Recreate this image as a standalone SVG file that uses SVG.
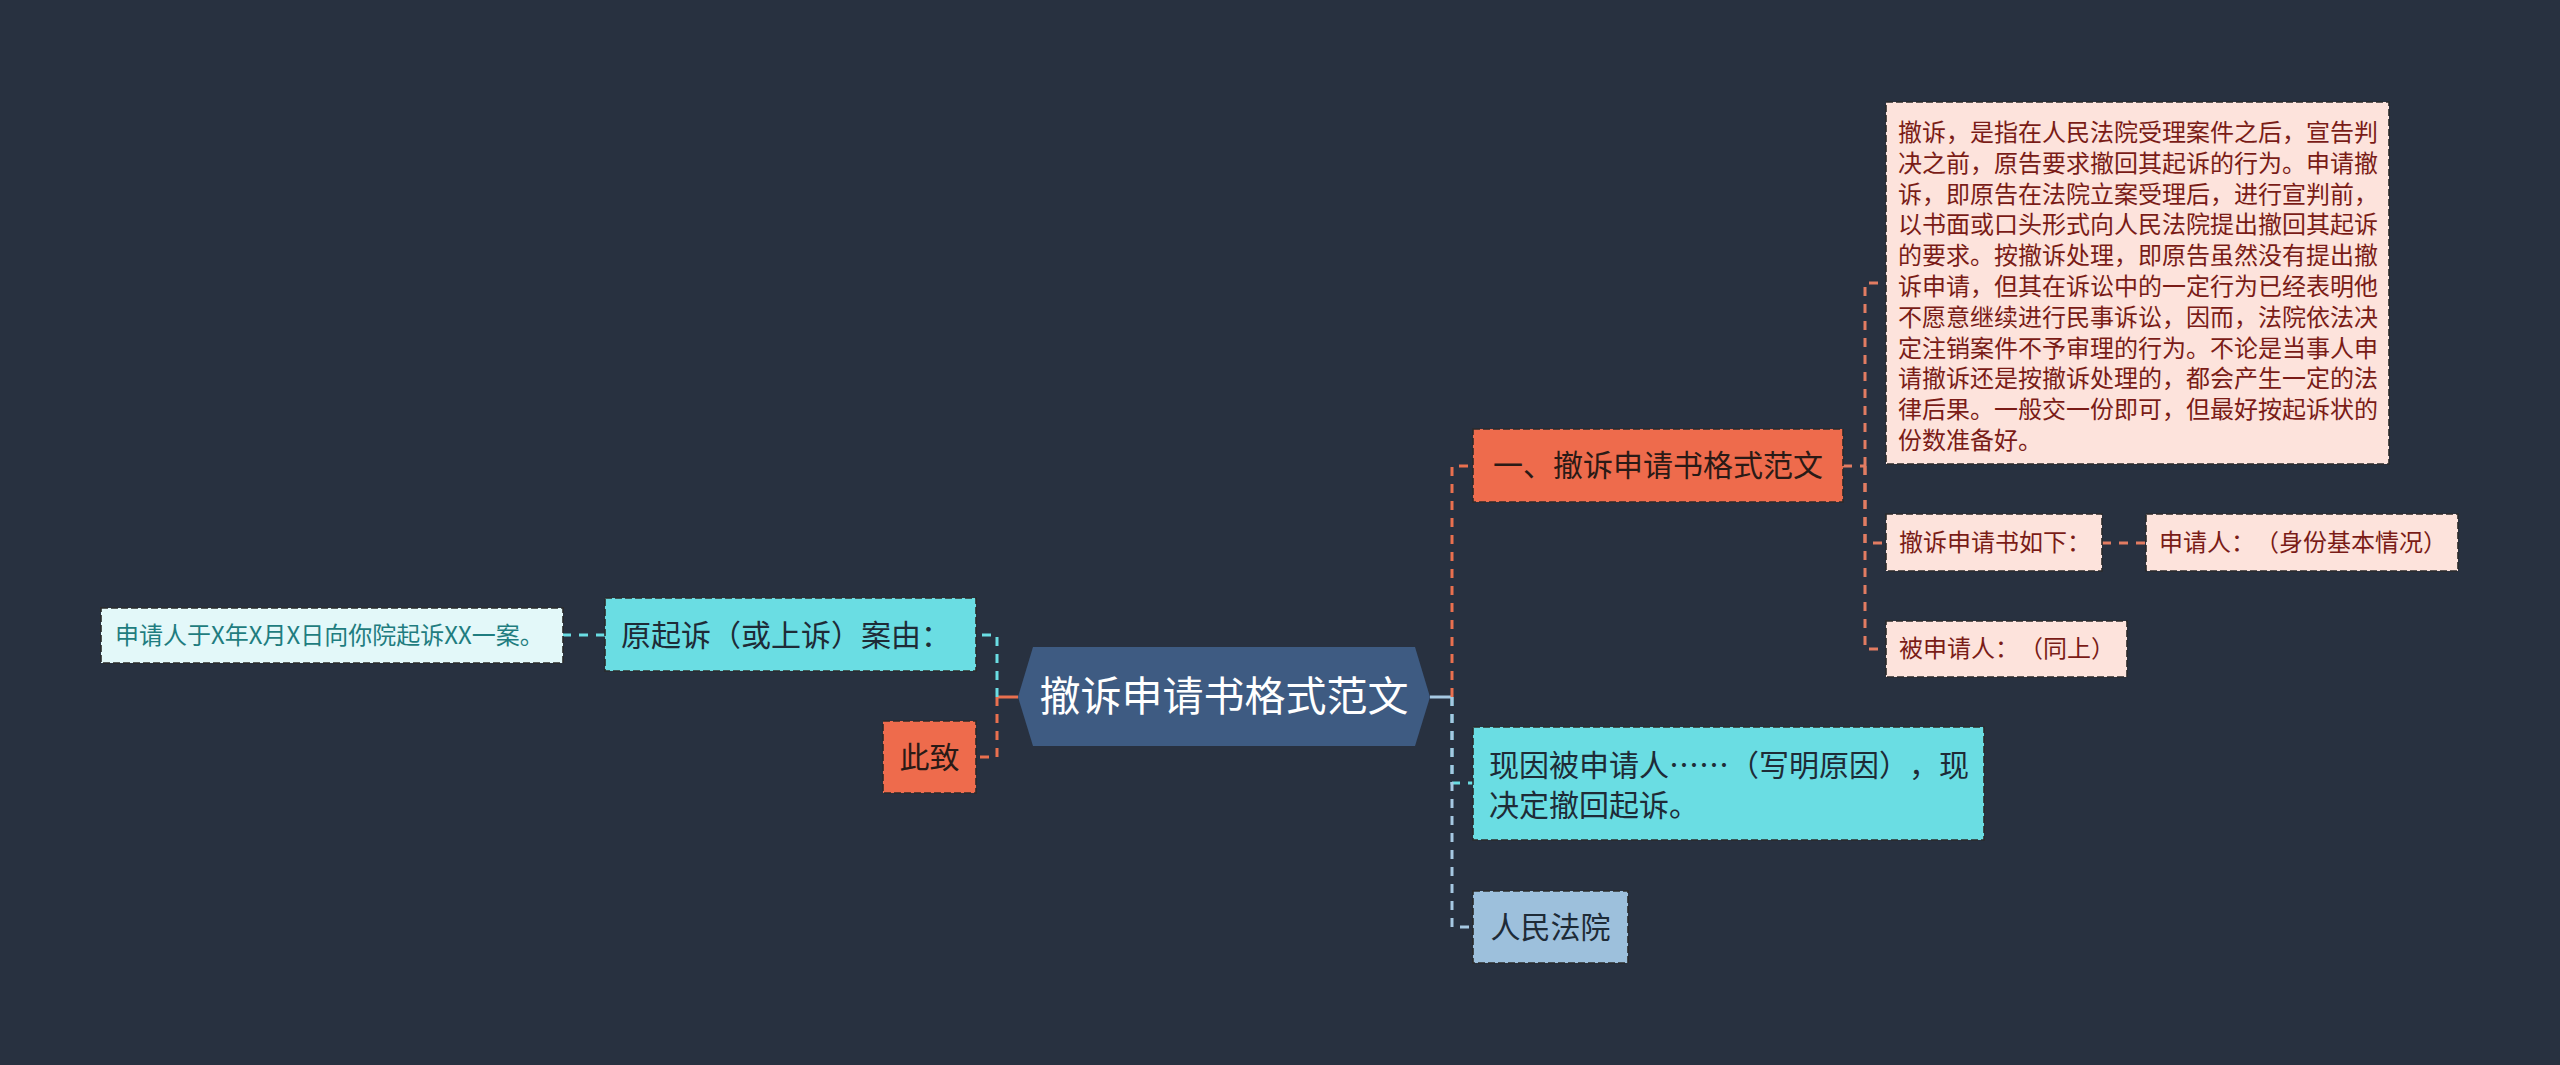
<svg xmlns="http://www.w3.org/2000/svg" width="2560" height="1065" viewBox="0 0 2560 1065">
<style>
text{font-family:"Noto Sans CJK SC","Noto Sans",sans-serif;text-spacing-trim:space-all}
.box{stroke:#2a2a2a;stroke-width:1.6;stroke-dasharray:7 3}
.c{fill:none;stroke-width:3;stroke-dasharray:9 8}
.or{stroke:#E9704F}
.sal{stroke:#E27C62}
.cy{stroke:#6ADDE3}
.lb{stroke:#A6C8E2}
.l1{font-size:30px;fill:#1E2B37}
.l1o{font-size:30px;fill:#2A1A16}
.l2{font-size:24px;fill:#7A1C17}
</style>
<rect width="2560" height="1065" fill="#283140"/>
<g id="connectors">
<path d="M1018 697H997" stroke="#E9704F" stroke-width="3" fill="none"/>
<path class="c or" d="M997 697V757H976"/>
<path class="c cy" d="M997 697V635H976"/>
<path class="c cy" d="M605 635H563"/>
<path d="M1430 697H1452" stroke="#A6C8E2" stroke-width="3" fill="none"/>
<path class="c or" d="M1452 697V466H1473"/>
<path class="c cy" d="M1452 697V783H1473"/>
<path class="c lb" d="M1452 697V927H1473"/>
<path class="c sal" d="M1843 466H1865"/>
<path class="c sal" d="M1865 466V283H1886"/>
<path class="c sal" d="M1865 466V543H1886"/>
<path class="c sal" d="M1865 466V649H1886"/>
<path class="c sal" d="M2102 543H2146"/>
</g>
<g id="root">
<polygon points="1033,647 1415,647 1430,697 1415,746 1033,746 1018,697" fill="#3E5B82"/>
<text x="1224" y="711" font-size="41" fill="#ffffff" text-anchor="middle">撤诉申请书格式范文</text>
</g>
<g id="n-origin">
<rect class="box" x="605" y="598" width="371" height="73" fill="#6ADDE3"/>
<text class="l1" x="621" y="646">原起诉（或上诉）案由：</text>
</g>
<g id="n-origin-child">
<rect class="box" x="101" y="608" width="462" height="55" fill="#E3F8F9"/>
<text x="115" y="644" font-size="24" fill="#1F7D80">申请人于X年X月X日向你院起诉XX一案。</text>
</g>
<g id="n-cizhi">
<rect class="box" x="883" y="721" width="93" height="72" fill="#EE6B4C"/>
<text class="l1o" x="929.5" y="768" text-anchor="middle">此致</text>
</g>
<g id="n-title">
<rect class="box" x="1473" y="429" width="370" height="73" fill="#EE6B4C"/>
<text class="l1o" x="1658" y="476" text-anchor="middle">一、撤诉申请书格式范文</text>
</g>
<g id="n-def">
<rect class="box" x="1886" y="102" width="503" height="362" fill="#FDE3DC"/>
<g class="l2">
<text class="l2" x="1898" y="141">撤诉，是指在人民法院受理案件之后，宣告判</text>
<text class="l2" x="1898" y="172">决之前，原告要求撤回其起诉的行为。申请撤</text>
<text class="l2" x="1898" y="203">诉，即原告在法院立案受理后，进行宣判前，</text>
<text class="l2" x="1898" y="233">以书面或口头形式向人民法院提出撤回其起诉</text>
<text class="l2" x="1898" y="264">的要求。按撤诉处理，即原告虽然没有提出撤</text>
<text class="l2" x="1898" y="295">诉申请，但其在诉讼中的一定行为已经表明他</text>
<text class="l2" x="1898" y="326">不愿意继续进行民事诉讼，因而，法院依法决</text>
<text class="l2" x="1898" y="357">定注销案件不予审理的行为。不论是当事人申</text>
<text class="l2" x="1898" y="387">请撤诉还是按撤诉处理的，都会产生一定的法</text>
<text class="l2" x="1898" y="418">律后果。一般交一份即可，但最好按起诉状的</text>
<text class="l2" x="1898" y="449">份数准备好。</text>
</g>
</g>
<g id="n-below">
<rect class="box" x="1886" y="514" width="216" height="57" fill="#FDE3DC"/>
<text class="l2" x="1899" y="551">撤诉申请书如下：</text>
</g>
<g id="n-applicant">
<rect class="box" x="2146" y="514" width="312" height="57" fill="#FDE3DC"/>
<text class="l2" x="2159" y="551">申请人：（身份基本情况）</text>
</g>
<g id="n-respondent">
<rect class="box" x="1886" y="621" width="241" height="56" fill="#FDE3DC"/>
<text class="l2" x="1899" y="657">被申请人：（同上）</text>
</g>
<g id="n-reason">
<rect class="box" x="1473" y="727" width="511" height="113" fill="#6ADDE3"/>
<text class="l1" x="1489" y="776">现因被申请人……（写明原因），现</text>
<text class="l1" x="1489" y="816">决定撤回起诉。</text>
</g>
<g id="n-court">
<rect class="box" x="1473" y="891" width="155" height="72" fill="#9DC0DC"/>
<text class="l1" x="1550.5" y="938" text-anchor="middle">人民法院</text>
</g>
</svg>
